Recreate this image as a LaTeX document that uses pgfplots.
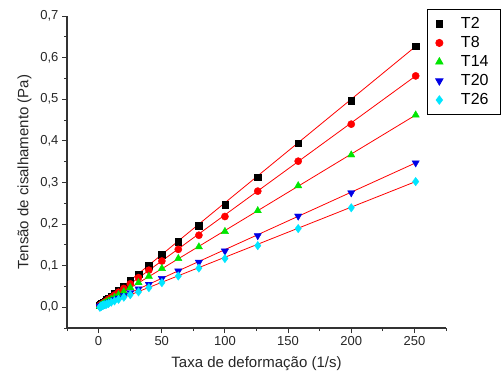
\documentclass[border=0pt]{standalone}
\usepackage{pgfplots}
\pgfplotsset{compat=1.18}
\usepackage{fontspec}
\setmainfont{Liberation Sans}
\definecolor{tblue}{RGB}{0,0,230}
\definecolor{tgreen}{RGB}{0,230,0}
\definecolor{tcyan}{RGB}{0,230,255}
\definecolor{tred}{RGB}{255,0,0}
\begin{document}
\begin{tikzpicture}[x=1pt,y=1pt]
\begin{axis}[
  at={(67pt,52pt)}, anchor=south west,
  scale only axis, width=379pt, height=312pt,
  xmin=-25, xmax=275, ymin=-0.05, ymax=0.7,
  axis x line*=bottom, axis y line*=left,
  axis line style={line width=1.1pt, black!80},
  tick align=outside,
  major tick length=5pt, minor tick length=3pt,
  tick style={line width=0.9pt, black!80},
  xtick={0,50,100,150,200,250},
  minor xtick={-25,25,75,125,175,225,275},
  ytick={0,0.1,0.2,0.3,0.4,0.5,0.6,0.7},
  minor ytick={-0.05,0.05,0.15,0.25,0.35,0.45,0.55,0.65},
  yticklabel style={/pgf/number format/.cd, fixed, fixed zerofill, precision=1, use comma},
  /pgf/number format/assume math mode=true,
  ticklabel style={font=\fontsize{13}{15}\selectfont, text=black!85},
  xlabel={Taxa de deformação (1/s)},
  ylabel={Tensão de cisalhamento (Pa)},
  label style={font=\fontsize{15}{17}\selectfont, text=black!85},
  xlabel style={yshift=-4pt},
  ylabel style={yshift=2pt},
  clip=false,
  legend style={at={(rel axis cs:1.145,1.022)}, anchor=north east,
    draw=black, line width=0.8pt, font=\fontsize{16}{18}\selectfont,
    row sep=2.4pt, inner xsep=8pt, inner ysep=6pt,
    /tikz/every odd column/.append style={column sep=14pt},
    nodes={inner xsep=4pt}},
  legend cell align=left,
]
% fit lines
\addplot[tred, line width=0.8pt, forget plot] coordinates {(2,0.007) (251,0.627)};
\addplot[tred, line width=0.8pt, forget plot] coordinates {(2,0.005) (251,0.556)};
\addplot[tred, line width=0.8pt, forget plot] coordinates {(2,0.004) (251,0.462)};
\addplot[tred, line width=0.8pt, forget plot] coordinates {(2,0.003) (251,0.347)};
\addplot[tred, line width=0.8pt, forget plot] coordinates {(2,0.002) (251,0.302)};
% data
\addplot[only marks, mark=square*, mark size=3.2pt, black, mark options={fill=black}] coordinates {
(1,0.0045) (1.26,0.005) (1.58,0.006) (2,0.007) (2.51,0.008) (3.16,0.010) (3.98,0.012) (5.01,0.015) (6.31,0.018) (7.94,0.022) (10,0.027) (12.6,0.033) (15.8,0.041) (20,0.051) (25.1,0.064) (31.6,0.080) (39.8,0.100) (50.1,0.126) (63.1,0.157) (79.4,0.196) (100,0.246) (126,0.313) (158,0.394) (200,0.496) (251,0.627)};
\addlegendentry{T2}
\addplot[only marks, mark=*, mark size=3.6pt, tred, mark options={fill=tred}] coordinates {
(1,0.003) (1.26,0.004) (1.58,0.005) (2,0.005) (2.51,0.007) (3.16,0.008) (3.98,0.010) (5.01,0.012) (6.31,0.015) (7.94,0.019) (10,0.023) (12.6,0.029) (15.8,0.036) (20,0.045) (25.1,0.056) (31.6,0.071) (39.8,0.089) (50.1,0.111) (63.1,0.139) (79.4,0.173) (100,0.218) (126,0.279) (158,0.351) (200,0.440) (251,0.556)};
\addlegendentry{T8}
\addplot[only marks, mark=triangle*, mark size=4.2pt, tgreen, mark options={fill=tgreen}] coordinates {
(1,0.002) (1.26,0.003) (1.58,0.003) (2,0.004) (2.51,0.005) (3.16,0.006) (3.98,0.008) (5.01,0.010) (6.31,0.012) (7.94,0.015) (10,0.019) (12.6,0.024) (15.8,0.030) (20,0.037) (25.1,0.047) (31.6,0.059) (39.8,0.074) (50.1,0.093) (63.1,0.117) (79.4,0.145) (100,0.182) (126,0.232) (158,0.292) (200,0.366) (251,0.462)};
\addlegendentry{T14}
\addplot[only marks, mark=triangle*, mark size=4.2pt, tblue, mark options={fill=tblue, rotate=180}] coordinates {
(1,0.001) (1.26,0.002) (1.58,0.002) (2,0.003) (2.51,0.004) (3.16,0.005) (3.98,0.006) (5.01,0.007) (6.31,0.009) (7.94,0.011) (10,0.014) (12.6,0.018) (15.8,0.022) (20,0.028) (25.1,0.035) (31.6,0.044) (39.8,0.055) (50.1,0.069) (63.1,0.087) (79.4,0.108) (100,0.135) (126,0.172) (158,0.219) (200,0.275) (251,0.347)};
\addlegendentry{T20}
\addplot[only marks, mark=diamond*, mark size=4.2pt, tcyan, mark options={fill=tcyan}] coordinates {
(1,0.000) (1.26,0.001) (1.58,0.001) (2,0.002) (2.51,0.003) (3.16,0.004) (3.98,0.005) (5.01,0.006) (6.31,0.007) (7.94,0.009) (10,0.012) (12.6,0.015) (15.8,0.019) (20,0.024) (25.1,0.030) (31.6,0.037) (39.8,0.047) (50.1,0.059) (63.1,0.075) (79.4,0.094) (100,0.117) (126,0.148) (158,0.189) (200,0.239) (251,0.302)};
\addlegendentry{T26}
\end{axis}
\pgfresetboundingbox
\path (0pt,0pt) rectangle (502pt,380pt);
\end{tikzpicture}
\end{document}
